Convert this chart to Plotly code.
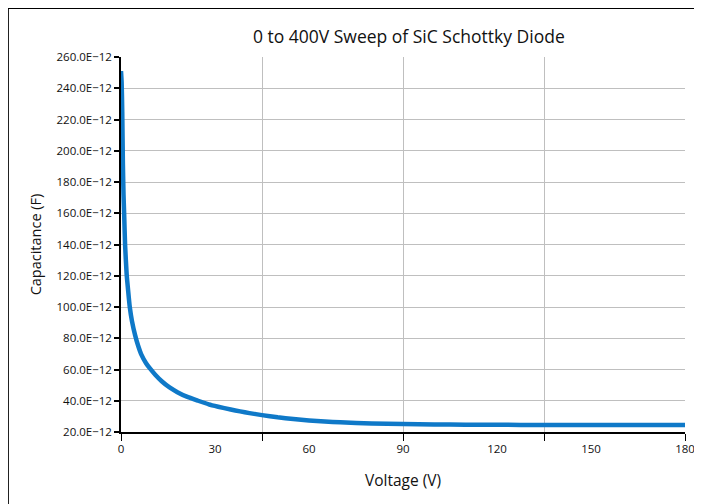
import plotly.graph_objects as go

# Data (Voltage in V, Capacitance in pF)
voltage = [0, 0.2, 0.4, 0.6, 0.8, 1.0, 1.3, 1.8, 2.3, 2.8, 3.5, 4.5, 5.5, 6.5, 8.0,
           9.3, 11, 13, 15.5, 18, 21, 24.6, 28, 31, 35, 38, 41, 45, 50, 55,
           60, 65, 70, 80, 90, 100, 110, 120, 135, 150, 165, 180]
cap_pF = [251, 244, 225, 192, 172, 160, 140, 121, 110, 100, 91, 82, 75, 69.5, 64,
          60.5, 56.5, 52.5, 48.5, 45.5, 42.6, 40.0, 37.7, 36.2, 34.4, 33.2, 32.1, 30.8, 29.4, 28.3,
          27.4, 26.7, 26.2, 25.5, 25.1, 24.85, 24.7, 24.6, 24.5, 24.5, 24.5, 24.5]

y_tickvals_pF = [20, 40, 60, 80, 100, 120, 140, 160, 180, 200, 220, 240, 260]
y_ticktext = [f"{v:.1f}E\u221212" for v in y_tickvals_pF]
x_label_vals = [0, 30, 60, 90, 120, 150, 180]
x_grid_vals = [0, 45, 90, 135, 180]

cap_F = [c * 1e-12 for c in cap_pF]
y_tickvals = [v * 1e-12 for v in y_tickvals_pF]

font_family = "Open Sans, Noto Sans, sans-serif"
txt = "#111111"

fig = go.Figure()
fig.add_trace(go.Scatter(
    x=voltage, y=cap_F, mode="lines",
    line=dict(color="#0f79c8", width=4.5, shape="spline", smoothing=0.5),
    showlegend=False, hoverinfo="skip",
))
fig.add_trace(go.Scatter(
    x=[None], y=[None], xaxis="x2", mode="lines", showlegend=False, hoverinfo="skip",
))

fig.update_layout(
    width=702, height=504,
    margin=dict(l=113, r=25, t=49, b=80),
    paper_bgcolor="white", plot_bgcolor="white",
    font=dict(family=font_family, color=txt),
    title=dict(text="0 to 400V Sweep of SiC Schottky Diode", x=0.571, xanchor="center",
               y=0.9425, yanchor="middle", font=dict(size=17.5, color=txt)),
    xaxis=dict(
        range=[0, 180], tickmode="array", tickvals=x_grid_vals, showticklabels=False,
        ticks="outside", ticklen=7, tickwidth=1.2, tickcolor="black",
        showgrid=True, gridcolor="#bfbfbf", gridwidth=1.2,
        showline=True, linecolor="black", linewidth=1.5, zeroline=False,
        title=dict(text=""),
    ),
    xaxis2=dict(
        overlaying="x", matches="x", side="bottom", anchor="y",
        range=[0, 180], tickmode="array", tickvals=x_label_vals,
        ticks="outside", ticklen=6, tickcolor="rgba(0,0,0,0)",
        showgrid=False, showline=False, zeroline=False,
        tickfont=dict(size=11.5, color=txt),
        title=dict(text="Voltage (V)", font=dict(size=15.5, color=txt), standoff=20),
    ),
    yaxis=dict(
        range=[20e-12, 260e-12], tickmode="array", tickvals=y_tickvals, ticktext=y_ticktext,
        ticks="outside", ticklen=5, tickwidth=2, tickcolor="black",
        tickfont=dict(size=11.5, color=txt),
        showgrid=True, gridcolor="#bfbfbf", gridwidth=1.2,
        showline=True, linecolor="black", linewidth=1.5, zeroline=False,
        title=dict(text="Capacitance (F)", font=dict(size=14.5, color=txt), standoff=11),
    ),
    shapes=[
        dict(type="line", xref="paper", yref="paper",
             x0=-0.2004, x1=1.3, y0=1.1307, y1=1.1307,
             line=dict(color="black", width=1.8), layer="above"),
        dict(type="line", xref="paper", yref="paper",
             x0=-0.2004, x1=-0.2004, y0=-0.4, y1=1.1307,
             line=dict(color="black", width=1.8), layer="above"),
    ],
)

fig.write_html("out.html")
